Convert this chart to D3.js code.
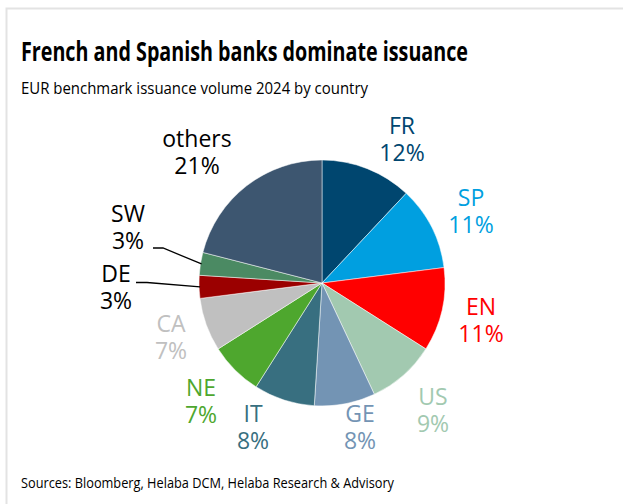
<!DOCTYPE html>
<html>
<head>
<meta charset="utf-8">
<script src="https://cdn.jsdelivr.net/npm/d3@7/dist/d3.min.js"></script>
<style>
  html, body { margin: 0; padding: 0; background: #ffffff; }
  svg { display: block; }
  text { font-family: "Open Sans", "Noto Sans", sans-serif; }
</style>
</head>
<body>
<svg id="chart" width="623" height="504"></svg>
<script>
// Share of EUR benchmark issuance volume in 2024, by issuer country (%)
const countries = ["FR", "SP", "EN", "US", "GE", "IT", "NE", "CA", "DE", "SW", "others"];
const shares    = [12, 11, 11, 9, 8, 8, 7, 7, 3, 3, 21];
const sliceColors = ["#00466f", "#009fe0", "#ff0000", "#a2c9b0", "#7394b4", "#386f80",
                     "#4ea72e", "#c0c0c0", "#9b0000", "#4b8a63", "#3d5670"];
const labelColors = ["#00466f", "#009fe0", "#ff0000", "#a2c9b0", "#7394b4", "#386f80",
                     "#4ea72e", "#c0c0c0", "#000000", "#000000", "#000000"];
// label anchor (centre of the two-line label, first baseline)
const labelPos = [[402, 134], [471, 206], [481, 315], [433, 405], [360, 422], [253, 422],
                  [201, 396], [171, 332], [116, 282], [128, 222], [197, 147]];

const svg = d3.select("#chart");

// panel frame
svg.append("path")
  .attr("d", "M6.5,504 V8.5 H623")
  .attr("fill", "none")
  .attr("stroke", "#e3e3e3")
  .attr("stroke-width", 2);

// headings
svg.append("text")
  .attr("x", 21).attr("y", 61)
  .attr("font-size", 26).attr("font-weight", 700).attr("fill", "#000")
  .attr("textLength", 447).attr("lengthAdjust", "spacingAndGlyphs")
  .text("French and Spanish banks dominate issuance");

svg.append("text")
  .attr("x", 21).attr("y", 94)
  .attr("font-size", 17).attr("fill", "#000")
  .attr("textLength", 347).attr("lengthAdjust", "spacingAndGlyphs")
  .text("EUR benchmark issuance volume 2024 by country");

svg.append("text")
  .attr("x", 21).attr("y", 488)
  .attr("font-size", 14.5).attr("fill", "#000")
  .attr("textLength", 373).attr("lengthAdjust", "spacingAndGlyphs")
  .text("Sources: Bloomberg, Helaba DCM, Helaba Research & Advisory");

// pie
const data = countries.map((c, i) => ({ country: c, share: shares[i], i }));
const cx = 322, cy = 283, radius = 123;

const pie = d3.pie().sort(null).value(d => d.share);
const arc = d3.arc().innerRadius(0).outerRadius(radius);
const arcs = pie(data);

const g = svg.append("g").attr("transform", `translate(${cx},${cy})`);
g.selectAll("path.slice")
  .data(arcs)
  .join("path")
  .attr("class", "slice")
  .attr("d", arc)
  .attr("fill", d => sliceColors[d.data.i])
  .attr("stroke", "#ffffff")
  .attr("stroke-width", 0.5);

// leader lines for the two small slices on the left
const leaderArc = d3.arc().innerRadius(radius - 1).outerRadius(radius - 1);
const leaders = [
  { country: "SW", start: [153, 248], elbow: [163, 248] },
  { country: "DE", start: [136, 282.5], elbow: [147, 282.5] }
];
leaders.forEach(l => {
  const a = arcs.find(d => d.data.country === l.country);
  const [px, py] = leaderArc.centroid(a);
  svg.append("polyline")
    .attr("points", [l.start, l.elbow, [cx + px, cy + py]].map(p => p.join(",")).join(" "))
    .attr("fill", "none")
    .attr("stroke", "#000")
    .attr("stroke-width", 1.3);
});

// category / share labels
const labels = svg.append("g").attr("font-size", 23).attr("text-anchor", "middle");
arcs.forEach(a => {
  const i = a.data.i;
  const [x, y] = labelPos[i];
  const t = labels.append("text").attr("fill", labelColors[i]);
  t.append("tspan").attr("x", x).attr("y", y).text(a.data.country);
  t.append("tspan").attr("x", x).attr("y", y + 27).text(d3.format(".0%")(a.data.share / 100));
});
</script>
</body>
</html>
